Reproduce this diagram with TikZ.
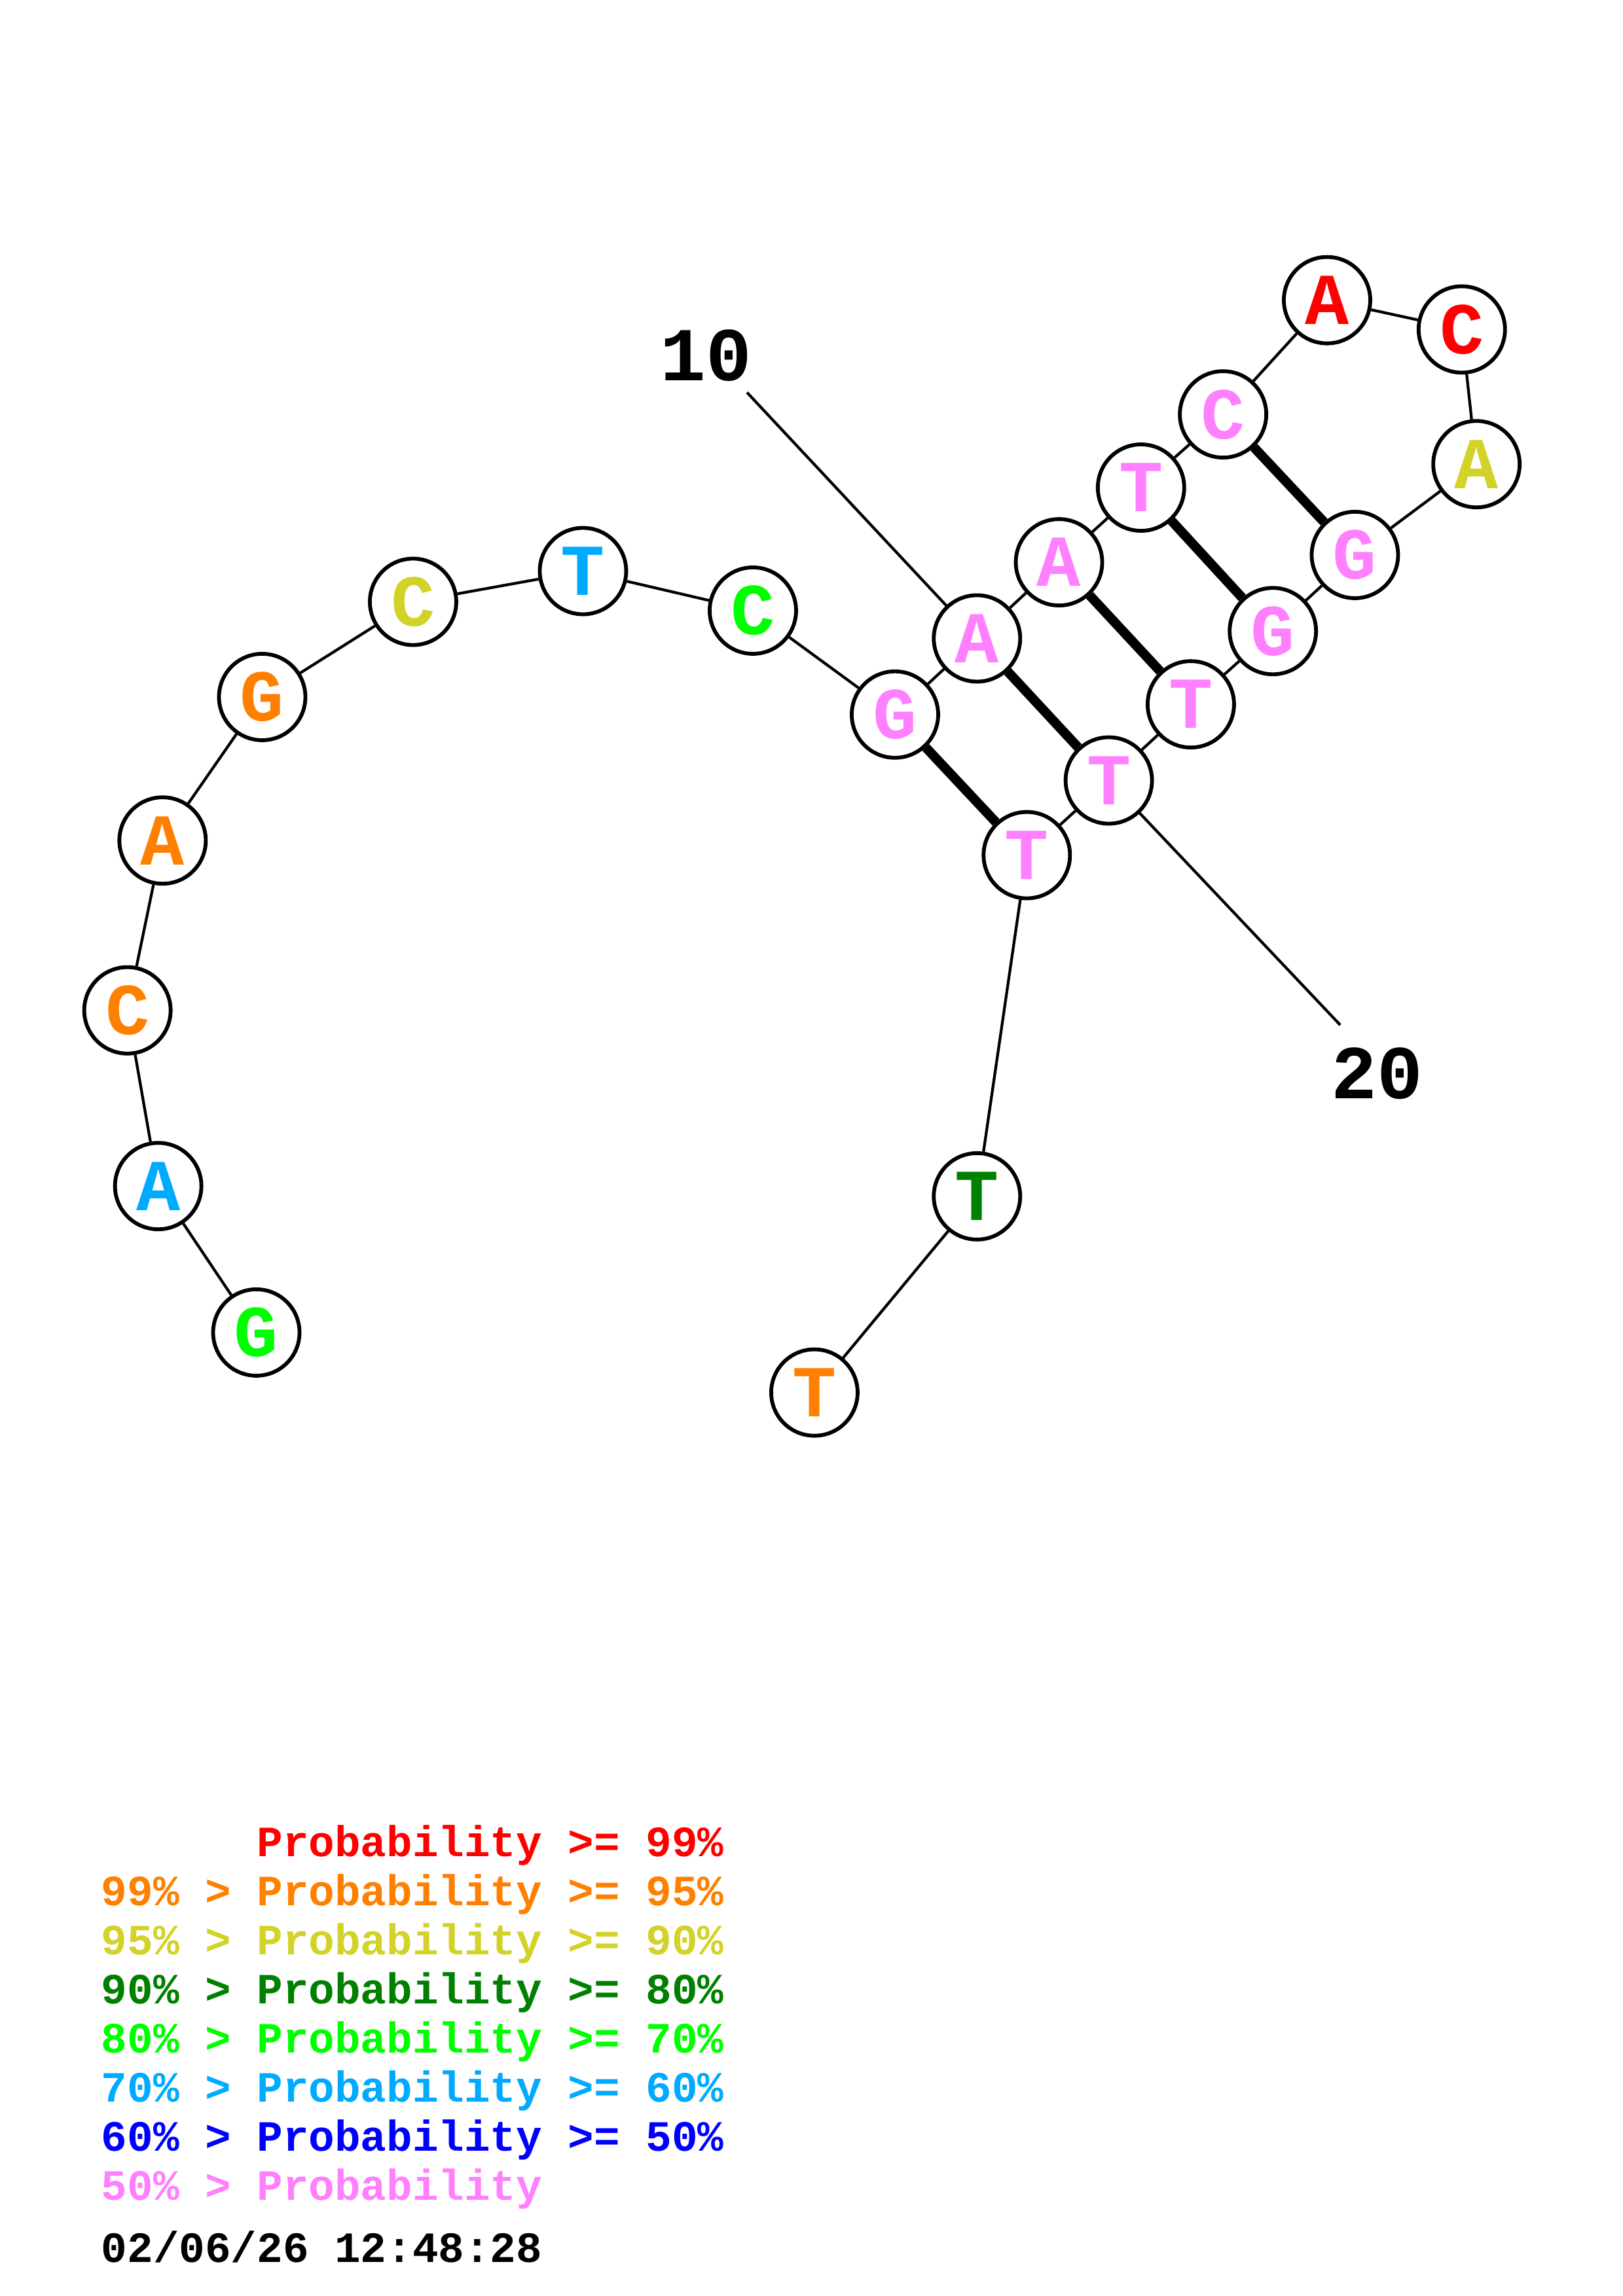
\documentclass[tikz,border=0pt]{standalone}
\usepackage{fontspec}
\setmonofont{Liberation Mono}
\begin{document}
\begin{tikzpicture}[x=1pt,y=-1pt,
  base/.style={circle,draw=black,line width=2.6pt,fill=white,minimum size=59pt,inner sep=0pt,font=\fontsize{50}{50}\selectfont\ttfamily\bfseries},
  bb/.style={line width=1.9pt},
  pr/.style={line width=6.5pt},
  num/.style={font=\fontsize{52}{52}\selectfont\ttfamily\bfseries,inner sep=0pt},
  lab/.style={font=\fontsize{29.5}{29.5}\selectfont\ttfamily\bfseries,anchor=base west,inner sep=0pt}]
\definecolor{cR}{RGB}{255,0,0}
\definecolor{cO}{RGB}{255,128,0}
\definecolor{cY}{RGB}{210,210,40}
\definecolor{cDG}{RGB}{0,128,0}
\definecolor{cG}{RGB}{0,255,0}
\definecolor{cLB}{RGB}{0,170,255}
\definecolor{cB}{RGB}{0,0,255}
\definecolor{cP}{RGB}{255,128,255}
\useasboundingbox (0,0) rectangle (1108,1568);
\coordinate (l10) at (510,268);
\coordinate (l20) at (915,700);
\node[base,text=cG] (n1) at (175,910) {G};
\node[base,text=cLB] (n2) at (108,810) {A};
\node[base,text=cO] (n3) at (87,690) {C};
\node[base,text=cO] (n4) at (111,574) {A};
\node[base,text=cO] (n5) at (179,476) {G};
\node[base,text=cY] (n6) at (282,411) {C};
\node[base,text=cLB] (n7) at (398,390) {T};
\node[base,text=cG] (n8) at (514,417) {C};
\node[base,text=cP] (n9) at (611,488) {G};
\node[base,text=cP] (n10) at (667,436) {A};
\node[base,text=cP] (n11) at (723,384) {A};
\node[base,text=cP] (n12) at (779,333) {T};
\node[base,text=cP] (n13) at (835,283) {C};
\node[base,text=cR] (n14) at (906,205) {A};
\node[base,text=cR] (n15) at (998,225) {C};
\node[base,text=cY] (n16) at (1008,317) {A};
\node[base,text=cP] (n17) at (925,379) {G};
\node[base,text=cP] (n18) at (869,431) {G};
\node[base,text=cP] (n19) at (813,481) {T};
\node[base,text=cP] (n20) at (757,533) {T};
\node[base,text=cP] (n21) at (701,584) {T};
\node[base,text=cDG] (n22) at (667,817) {T};
\node[base,text=cO] (n23) at (556,951) {T};
\draw[bb] (l10) -- (n10);
\draw[bb] (n20) -- (l20);
\foreach \a/\b in {1/2,2/3,3/4,4/5,5/6,6/7,7/8,8/9,9/10,10/11,11/12,12/13,13/14,14/15,15/16,16/17,17/18,18/19,19/20,20/21,21/22,22/23}
  \draw[bb] (n\a) -- (n\b);
\foreach \a/\b in {9/21,10/20,11/19,12/18,13/17}
  \draw[pr] (n\a) -- (n\b);
\node[num] (t10) at (482,243) {10};
\node[num] (t20) at (940,733) {20};
\node[lab,text=cR] (g1) at (69,1268) {\hphantom{99\% > }Probability >= 99\%};
\node[lab,text=cO] (g2) at (69,1301.5) {99\% > Probability >= 95\%};
\node[lab,text=cY] (g3) at (69,1335) {95\% > Probability >= 90\%};
\node[lab,text=cDG] (g4) at (69,1368.5) {90\% > Probability >= 80\%};
\node[lab,text=cG] (g5) at (69,1402) {80\% > Probability >= 70\%};
\node[lab,text=cLB] (g6) at (69,1435.5) {70\% > Probability >= 60\%};
\node[lab,text=cB] (g7) at (69,1469) {60\% > Probability >= 50\%};
\node[lab,text=cP] (g8) at (69,1502.5) {50\% > Probability};
\node[lab,text=black] (g9) at (69,1545) {02/06/26 12:48:28};
\end{tikzpicture}
\end{document}
